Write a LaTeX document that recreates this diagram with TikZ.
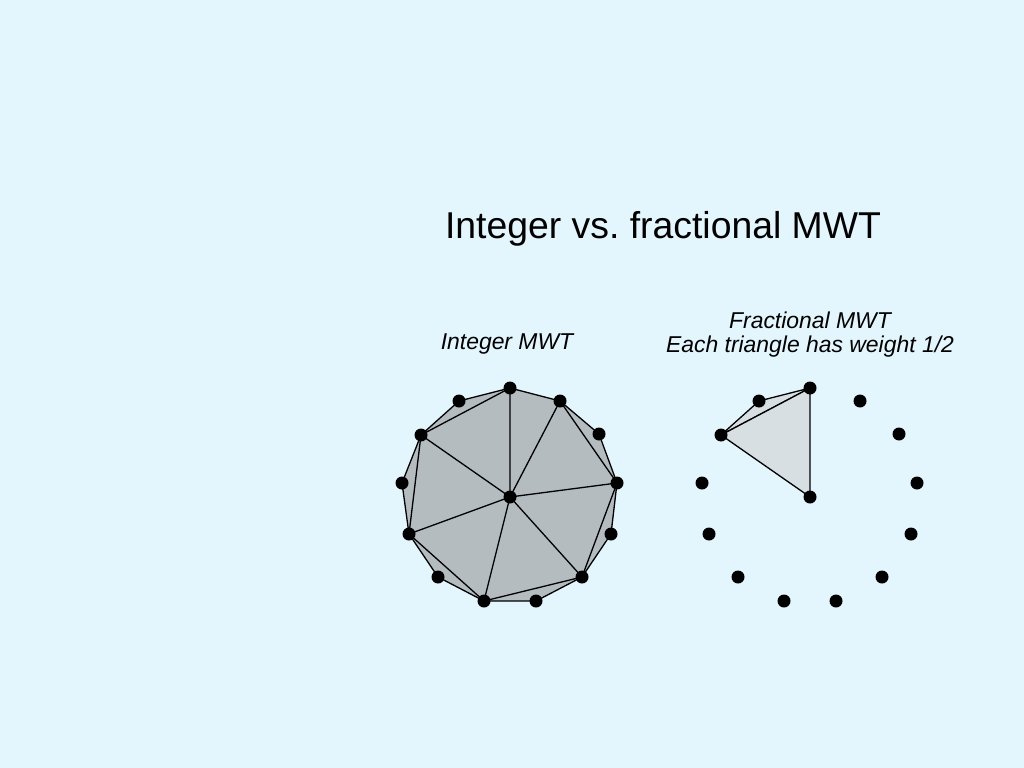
\documentclass[tikz,border=0pt]{standalone}
\usepackage{fontspec}
\setmainfont{Liberation Sans}
\frenchspacing
\definecolor{bgblue}{RGB}{227,246,254}
\definecolor{fulltri}{RGB}{180,188,192}
\definecolor{halftri}{RGB}{216,223,227}
\begin{document}
\begin{tikzpicture}[x=1bp, y=-1bp, line join=round]
\useasboundingbox[fill=bgblue] (0,0) rectangle (1024,768);
\node[anchor=base, font=\fontsize{37.5}{45}\selectfont] (title) at (663,238) {Integer vs. fractional MWT};
\node[anchor=base, font=\fontsize{23}{24}\selectfont\itshape] (intlabel) at (507,349) {Integer MWT};
\node[anchor=base, font=\fontsize{23}{24}\selectfont\itshape] (fraclabel) at (810,328) {Fractional MWT};
\node[anchor=base, font=\fontsize{23}{24}\selectfont\itshape] (weightlabel) at (810,352) {Each triangle has weight 1/2};
% integer MWT
\coordinate (c)   at (510,497);
\coordinate (a0)  at (510,388);
\coordinate (a1)  at (560,401);
\coordinate (a2)  at (599,434);
\coordinate (a3)  at (617,483);
\coordinate (a4)  at (611,534);
\coordinate (a5)  at (582,577);
\coordinate (a6)  at (536,601);
\coordinate (a7)  at (484,601);
\coordinate (a8)  at (438,577);
\coordinate (a9)  at (409,534);
\coordinate (a10) at (402,483);
\coordinate (a11) at (421,435);
\coordinate (a12) at (459,401);
\draw[fill=fulltri, line width=1.3bp] (a0)--(a1)--(a2)--(a3)--(a4)--(a5)--(a6)--(a7)--(a8)--(a9)--(a10)--(a11)--(a12)--cycle;
\draw[line width=1.3bp] (a11)--(a0) (a1)--(a3) (a3)--(a5) (a5)--(a7) (a7)--(a9) (a9)--(a11);
\draw[line width=1.3bp] (c)--(a0) (c)--(a1) (c)--(a3) (c)--(a5) (c)--(a7) (c)--(a9) (c)--(a11);
\fill (c) circle[radius=6.5bp] (a0) circle[radius=6.5bp] (a1) circle[radius=6.5bp]
  (a2) circle[radius=6.5bp] (a3) circle[radius=6.5bp] (a4) circle[radius=6.5bp]
  (a5) circle[radius=6.5bp] (a6) circle[radius=6.5bp] (a7) circle[radius=6.5bp]
  (a8) circle[radius=6.5bp] (a9) circle[radius=6.5bp] (a10) circle[radius=6.5bp]
  (a11) circle[radius=6.5bp] (a12) circle[radius=6.5bp];
% fractional MWT
\coordinate (d)   at (810,497);
\coordinate (b0)  at (810,388);
\coordinate (b1)  at (860,401);
\coordinate (b2)  at (899,434);
\coordinate (b3)  at (917,483);
\coordinate (b4)  at (911,534);
\coordinate (b5)  at (882,577);
\coordinate (b6)  at (836,601);
\coordinate (b7)  at (784,601);
\coordinate (b8)  at (738,577);
\coordinate (b9)  at (709,534);
\coordinate (b10) at (702,483);
\coordinate (b11) at (721,435);
\coordinate (b12) at (759,401);
\draw[fill=halftri, line width=1.3bp] (b11)--(b12)--(b0)--cycle;
\draw[fill=halftri, line width=1.3bp] (b11)--(b0)--(d)--cycle;
\fill (d) circle[radius=6.5bp] (b0) circle[radius=6.5bp] (b1) circle[radius=6.5bp]
  (b2) circle[radius=6.5bp] (b3) circle[radius=6.5bp] (b4) circle[radius=6.5bp]
  (b5) circle[radius=6.5bp] (b6) circle[radius=6.5bp] (b7) circle[radius=6.5bp]
  (b8) circle[radius=6.5bp] (b9) circle[radius=6.5bp] (b10) circle[radius=6.5bp]
  (b11) circle[radius=6.5bp] (b12) circle[radius=6.5bp];
\end{tikzpicture}
\end{document}
